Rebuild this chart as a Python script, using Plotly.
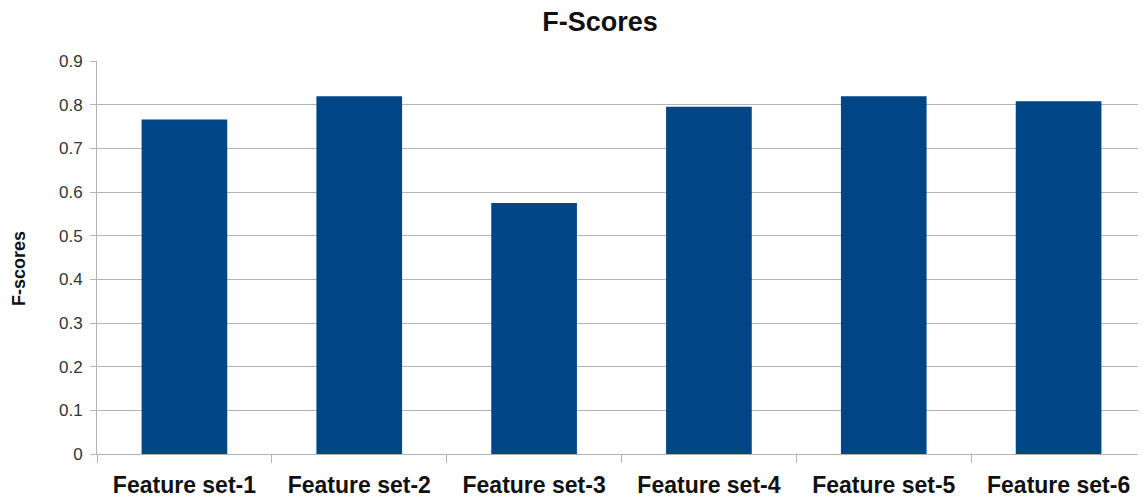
import plotly.graph_objects as go

categories = ["Feature set-1", "Feature set-2", "Feature set-3",
              "Feature set-4", "Feature set-5", "Feature set-6"]
f_scores = [0.766, 0.819, 0.575, 0.795, 0.819, 0.808]
y_ticks = [0, 0.1, 0.2, 0.3, 0.4, 0.5, 0.6, 0.7, 0.8, 0.9]
y_tick_labels = ["0", "0.1", "0.2", "0.3", "0.4", "0.5", "0.6", "0.7", "0.8", "0.9"]

fig = go.Figure(
    go.Bar(x=categories, y=f_scores, marker_color="#004586", marker_line_width=0)
)

# page body has an 8px margin, so the figure is sized to fill the window
fig.update_layout(
    width=1138,
    height=490,
    margin=dict(l=89, r=0, t=53, b=44),
    paper_bgcolor="white",
    plot_bgcolor="white",
    font=dict(family="Liberation Sans, Arial, sans-serif", color="#222"),
    bargap=0.51,
    showlegend=False,
    title=dict(
        text="<b>F-Scores</b>",
        font=dict(size=27, color="#111"),
        x=592 / 1138, xref="container", xanchor="center",
        y=1 - 14 / 490, yref="container", yanchor="middle",
    ),
)

# y-axis title sits a little below the plot's centre in the original
fig.add_annotation(
    text="<b>F-scores</b>",
    textangle=-90,
    xref="paper", yref="paper",
    x=(19 - 97) / 1049, y=(454 - 269) / 393,
    xanchor="center", yanchor="middle",
    showarrow=False,
    font=dict(size=18, color="#111"),
)

fig.update_xaxes(
    tickson="boundaries",
    ticks="outside",
    ticklen=8,
    tickcolor="#b3b3b3",
    tickfont=dict(size=23, color="#111"),
    tickprefix="<b>",
    ticksuffix="</b>",
    ticklabelstandoff=10,
    showline=True,
    linecolor="#b3b3b3",
    linewidth=1,
    showgrid=False,
)

fig.update_yaxes(
    range=[0, 0.9],
    tickvals=y_ticks,
    ticktext=y_tick_labels,
    ticks="outside",
    ticklen=6,
    tickcolor="#b3b3b3",
    tickfont=dict(size=17, color="#333"),
    ticklabelstandoff=4,
    showline=True,
    linecolor="#b3b3b3",
    linewidth=1,
    showgrid=True,
    gridcolor="#b3b3b3",
    gridwidth=1,
    zeroline=False,
)

fig.write_html("out.html")
